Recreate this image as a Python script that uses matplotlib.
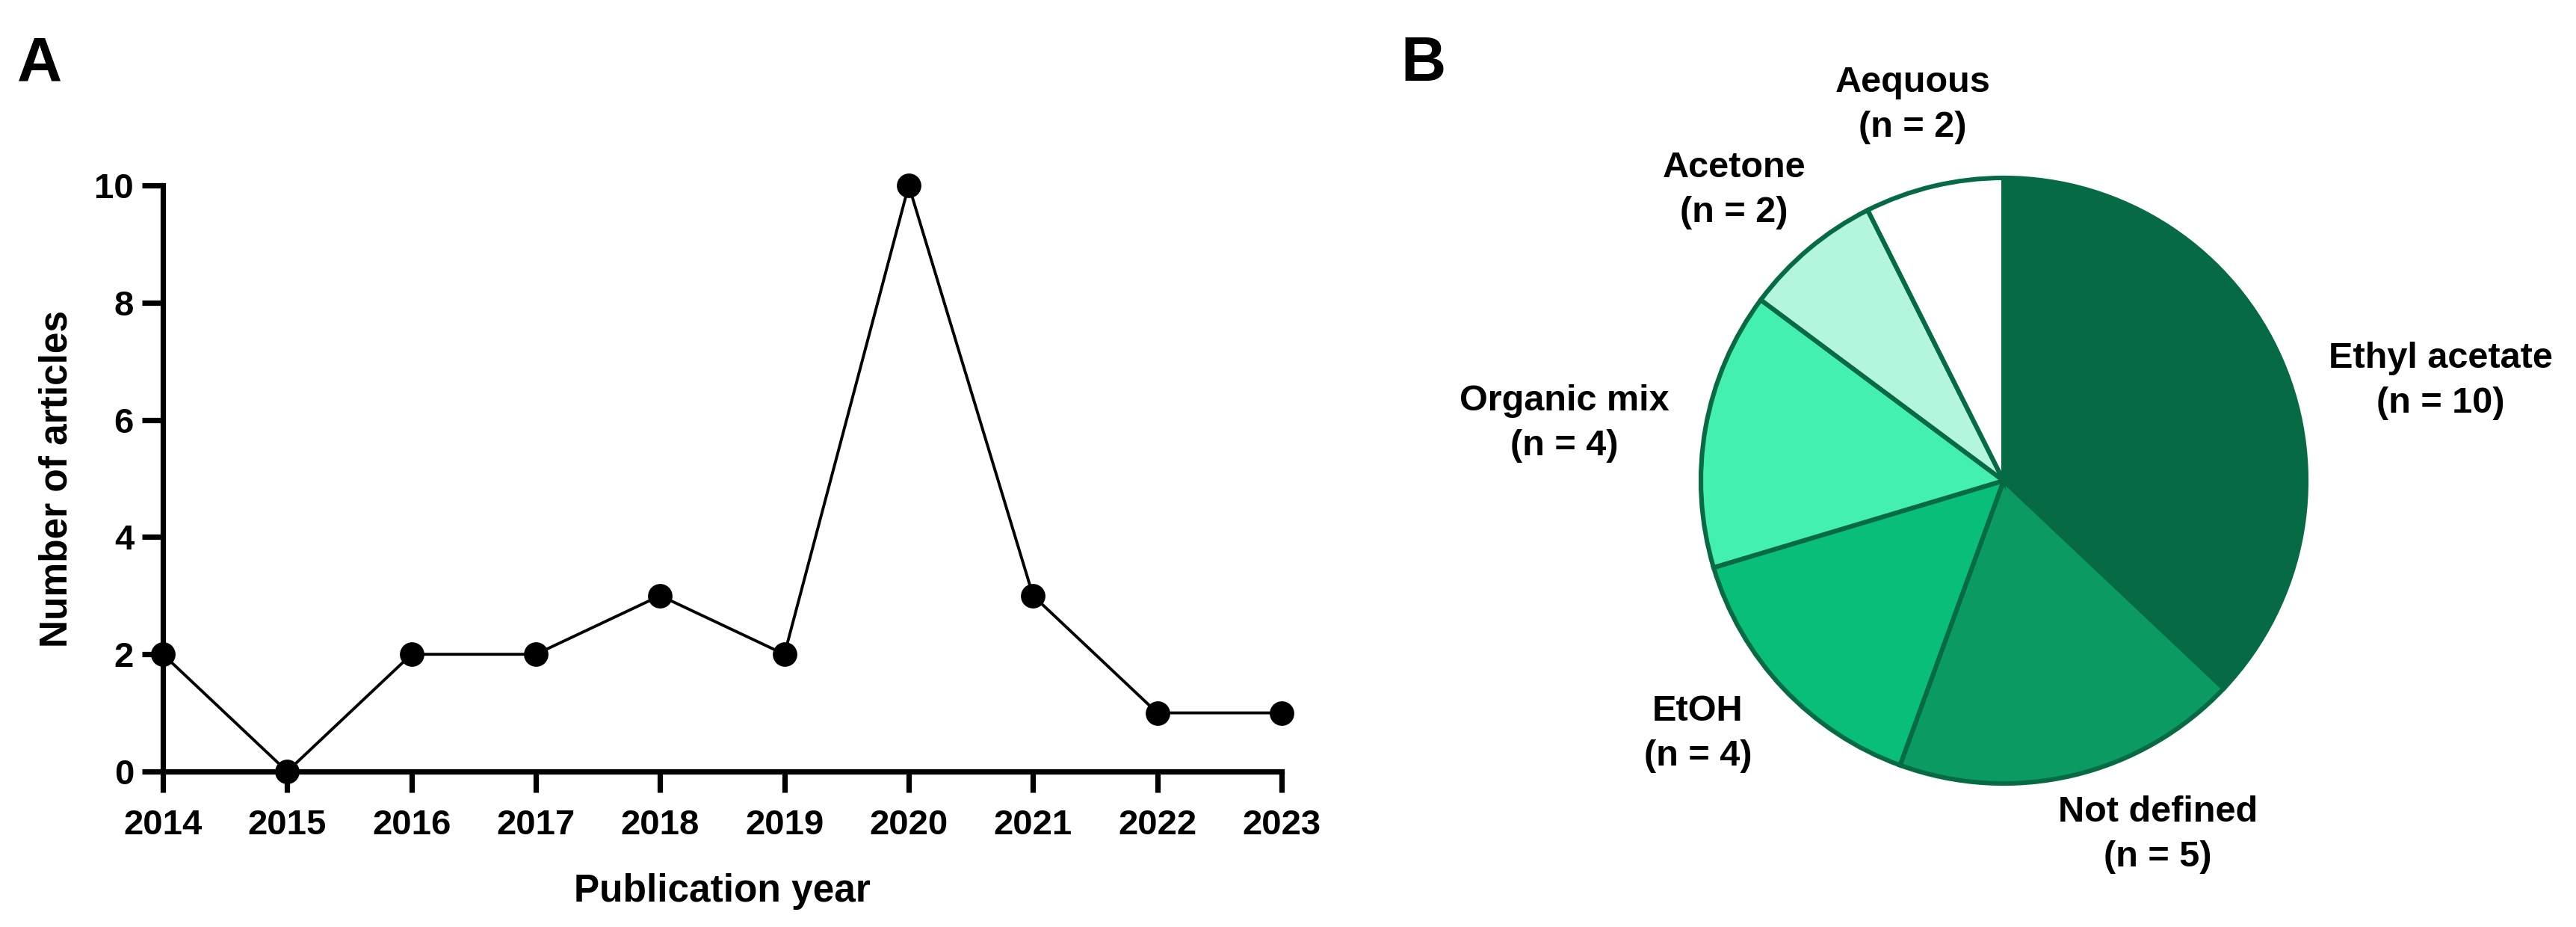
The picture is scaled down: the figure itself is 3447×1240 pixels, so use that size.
import matplotlib
matplotlib.use("Agg")
import matplotlib.pyplot as plt

plt.rcParams['font.family'] = ['Liberation Sans', 'DejaVu Sans']
plt.rcParams['font.weight'] = 'bold'

# Panel A: articles per year
years = [2014, 2015, 2016, 2017, 2018, 2019, 2020, 2021, 2022, 2023]
n_articles = [2, 0, 2, 2, 3, 2, 10, 3, 1, 1]

# Panel B: extraction solvent
solvents = ['Ethyl acetate', 'Not defined', 'EtOH', 'Organic mix', 'Acetone', 'Aequous']
solvent_counts = [10, 5, 4, 4, 2, 2]
solvent_colors = ['#066b45', '#0a9a62', '#08be78', '#43f0b0', '#b3f5dd', '#ffffff']
label_pos = [(1.445, 0.33), (0.51, -1.17), (-1.01, -0.835),
             (-1.45, 0.19), (-0.89, 0.96), (-0.30, 1.24)]

W, H = 3448, 1240
dpi = 200
fig = plt.figure(figsize=(W / dpi, H / dpi), dpi=dpi)

# ---- panel A ----
ax = fig.add_axes([218 / W, 1 - 1032 / H, (1715 - 218) / W, (1032 - 248) / H])
ax.plot(years, n_articles, color='black', lw=1.4, marker='o', ms=10.8,
        clip_on=False, zorder=3)
ax.set_xlim(2014, 2023)
ax.set_ylim(0, 10)
ax.set_xticks(years)
ax.set_yticks([0, 2, 4, 6, 8, 10])
for side in ['top', 'right']:
    ax.spines[side].set_visible(False)
for side in ['left', 'bottom']:
    ax.spines[side].set_linewidth(2.6)
ax.tick_params(axis='both', direction='out', length=10, width=2.6, labelsize=17)
ax.tick_params(axis='x', pad=8)
ax.tick_params(axis='y', pad=4)
ax.set_xlabel('Publication year', fontsize=18.5, fontweight='bold', va='center')
ax.set_ylabel('Number of articles', fontsize=18.5, fontweight='bold', va='center')
ax.xaxis.set_label_coords(0.5, -0.205)
ax.yaxis.set_label_coords(-0.095, 0.5)

fig.text(53 / W, 1 - 86 / H, 'A', fontsize=30, fontweight='bold', ha='center', va='center')
fig.text(1905 / W, 1 - 86 / H, 'B', fontsize=30, fontweight='bold', ha='center', va='center')

# ---- panel B ----
cx, cy, r = 2681, 643, 405
axp = fig.add_axes([(cx - r) / W, 1 - (cy + r) / H, 2 * r / W, 2 * r / H])
axp.pie(solvent_counts, colors=solvent_colors, startangle=90, counterclock=False,
        radius=1, wedgeprops=dict(edgecolor='#066b45', linewidth=2.2))
axp.set_xlim(-1, 1)
axp.set_ylim(-1, 1)
axp.set_aspect('equal')
axp.axis('off')
for name, cnt, (tx, ty) in zip(solvents, solvent_counts, label_pos):
    axp.text(tx, ty, f'{name}\n(n = {cnt})', ha='center', va='center',
             fontsize=17.5, fontweight='bold', linespacing=1.43, clip_on=False)

fig.savefig('out.png', dpi=dpi)
